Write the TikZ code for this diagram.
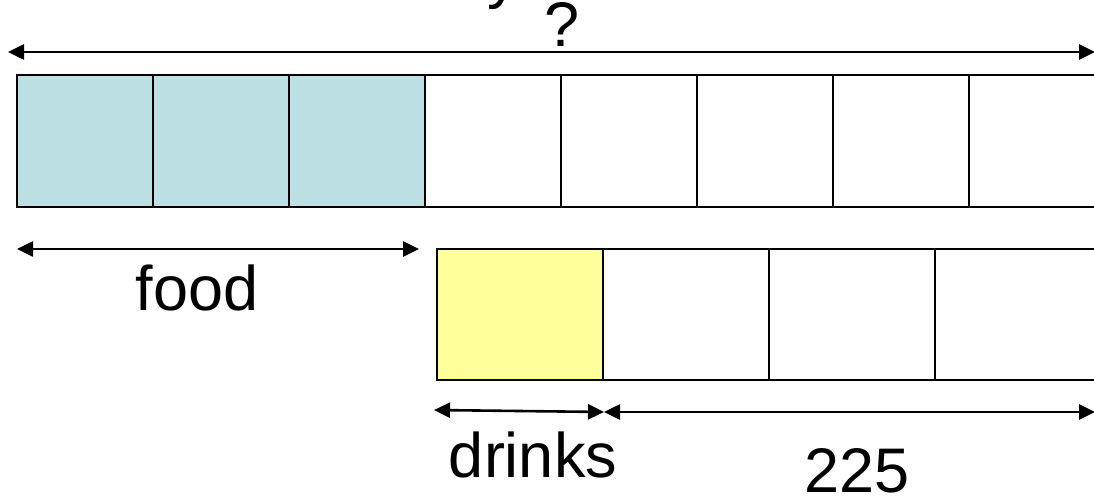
\documentclass[tikz,border=0pt]{standalone}
\usepackage{fontspec}
\setmainfont{Liberation Sans}
\usetikzlibrary{arrows.meta}
\definecolor{foodblue}{HTML}{BCE0E3}
\definecolor{drinkyellow}{HTML}{FFFF99}
\begin{document}
\begin{tikzpicture}[x=1pt,y=-1pt,
  cellA/.style={draw=black,line width=2.2pt,minimum width=136pt,minimum height=132pt,inner sep=0pt,outer sep=0pt,anchor=north west},
  cellB/.style={draw=black,line width=2.2pt,minimum width=166pt,minimum height=131pt,inner sep=0pt,outer sep=0pt,anchor=north west},
  dim/.style={line width=2.6pt,{Triangle[length=16pt,width=15pt]}-{Triangle[length=16pt,width=15pt]}},
  lbl/.style={font=\fontsize{63}{70}\selectfont,inner sep=0pt,anchor=base}]
\useasboundingbox (0,0) rectangle (1094,497);
\clip (0,0) rectangle (1094,497);
% top row
\foreach \i in {0,...,7}{
  \pgfmathsetmacro{\xx}{17+136*\i}
  \ifnum\i<3
    \node[cellA,fill=foodblue] (t\i) at (\xx,75) {};
  \else
    \node[cellA,fill=white] (t\i) at (\xx,75) {};
  \fi
}
% bottom row
\node[cellB,fill=drinkyellow] (b0) at (437,249) {};
\foreach \i in {1,2,3}{
  \pgfmathsetmacro{\xx}{437+166*\i}
  \node[cellB,fill=white] (b\i) at (\xx,249) {};
}
% top labels
\node[lbl] (ylet) at (503,-3) {y};
\node[lbl] (q) at (562,47) {?};
\coordinate (topL) at (8,52);
\coordinate (topR) at (1095,52);
\draw[dim] (topL) -- (topR);
% food
\coordinate (foodL) at (17,249);
\coordinate (foodR) at (419,249);
\draw[dim] (foodL) -- (foodR);
\node[lbl] (food) at (197,310) {food};
% drinks and 225
\coordinate (drL) at (434,410);
\coordinate (drR) at (604,412);
\coordinate (nR) at (1095,412);
\draw[dim] (drL) -- (drR);
\draw[dim] (drR) -- (nR);
\node[lbl] (drinks) at (533,477) {drinks};
\node[lbl] (n225) at (857,492) {225};
\end{tikzpicture}
\end{document}
